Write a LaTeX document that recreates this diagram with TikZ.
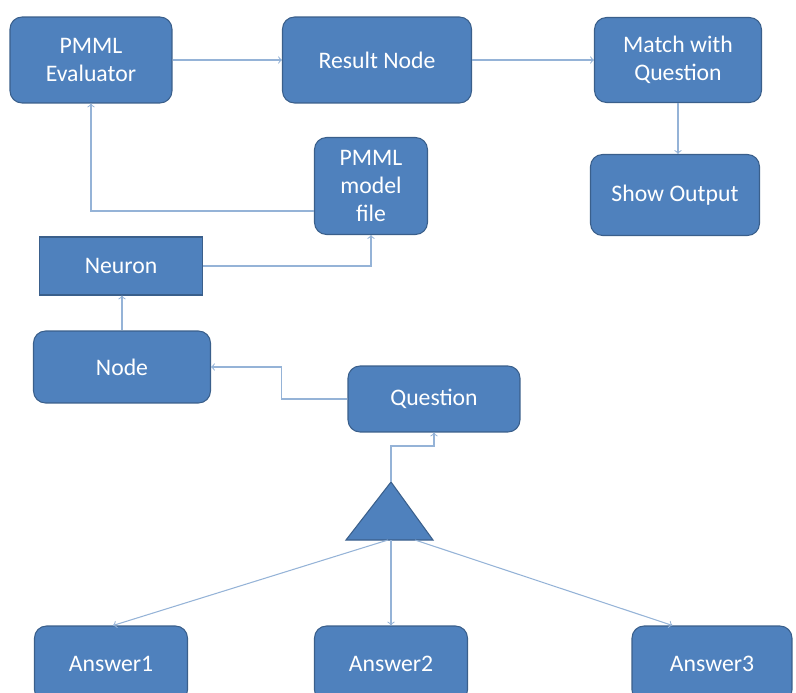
\documentclass[tikz,border=0pt]{standalone}
\usepackage{fontspec}
\setmainfont{Carlito}
\usepackage{xcolor}
\usetikzlibrary{positioning}

\definecolor{boxfill}{HTML}{4F81BD}
\definecolor{boxline}{HTML}{3A5F8B}
\definecolor{linkcol}{HTML}{95B3D7}

\tikzset{
  box/.style={draw=boxline, fill=boxfill, rounded corners=0.24cm, line width=0.6pt,
    text=white, align=center, inner sep=2pt,
    font=\fontsize{13.5}{16}\selectfont},
  flatbox/.style={box, rounded corners=0pt},
  link/.style={draw=linkcol, line width=0.6pt, ->}
}

\begin{document}
\begin{tikzpicture}[x=0.02cm, y=-0.02cm]
  \useasboundingbox (0,0) rectangle (796,693);
  \clip (0,0) rectangle (796,693);

  \node[box, minimum width=3.24cm, minimum height=1.72cm] (eval) at (91,60) {PMML\\Evaluator};
  \node[box, minimum width=3.78cm, minimum height=1.72cm] (res) at (377,60) {Result Node};
  \node[box, minimum width=3.34cm, minimum height=1.70cm] (match) at (678,60) {Match with\\Question};
  \node[box, minimum width=3.38cm, minimum height=1.62cm] (show) at (675,195) {Show Output};
  \node[box, minimum width=2.26cm, minimum height=1.94cm] (file) at (371,186) {PMML\\model\\file};
  \node[flatbox, minimum width=3.26cm, minimum height=1.16cm] (neuron) at (121,266) {Neuron};
  \node[box, minimum width=3.54cm, minimum height=1.44cm] (node) at (122,367) {Node};
  \node[box, minimum width=3.44cm, minimum height=1.32cm] (quest) at (434,399) {Question};

  \node[box, minimum width=3.06cm, minimum height=1.52cm] (ans1) at (111,664) {Answer1};
  \node[box, minimum width=3.06cm, minimum height=1.52cm] (ans2) at (391,664) {Answer2};
  \node[box, minimum width=3.20cm, minimum height=1.52cm] (ans3) at (712,664) {Answer3};

  % triangle
  \coordinate (apex) at (391,482);
  \coordinate (triL) at (388,540);
  \coordinate (triM) at (391,540);
  \coordinate (triR) at (415,540);
  \draw[draw=boxline, fill=boxfill, line width=0.6pt] (apex) -- (346,540) -- (433,540) -- cycle;

  % connectors
  \draw[link] (eval) -- (res);
  \draw[link] (res) -- (match);
  \draw[link] (match.south) -- (match.south |- show.north);
  \draw[link] ([yshift=-0.5cm]file.west) -| (eval.south);
  \draw[link] (neuron.east) -| (file.south);
  \draw[link] (node.north) -- (node.north |- neuron.south);
  \draw[link] (quest.west) -- ++(-66,0) |- (node.east);
  \draw[link] (apex) -- ++(0,-36) -| (quest.south);
  \draw[link] (triL) -- ([xshift=0.04cm]ans1.north);
  \draw[link] (triM) -- (ans2.north);
  \draw[link] (triR) -- ([xshift=0.82cm]ans3.north west);
\end{tikzpicture}
\end{document}
